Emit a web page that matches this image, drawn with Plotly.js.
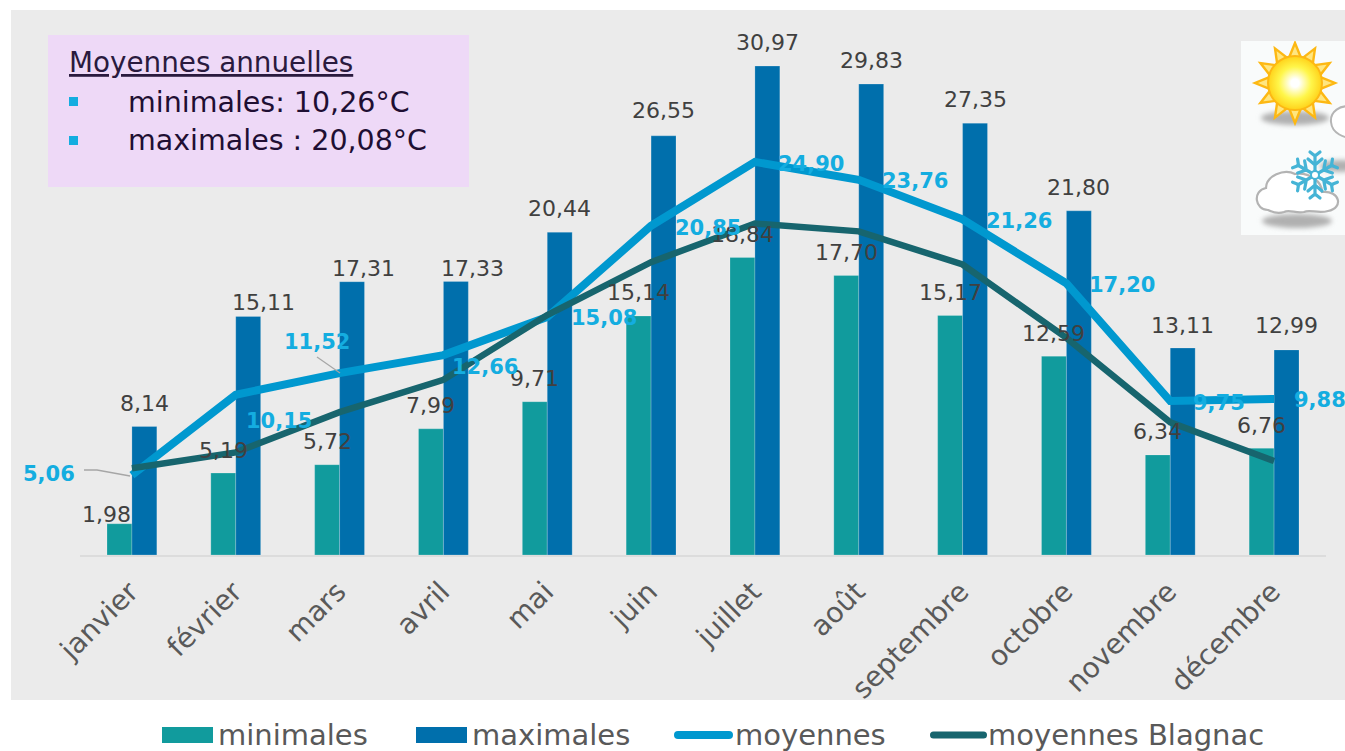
<!DOCTYPE html>
<html><head><meta charset="utf-8">
<script src="https://cdn.plot.ly/plotly-3.0.1.min.js"></script>
<style>html,body{margin:0;padding:0;background:#fff;overflow:hidden}#c{width:1345px;height:751px}</style>
</head><body><div id="c"></div>
<script>
const months = ['janvier','février','mars','avril','mai','juin','juillet','août','septembre','octobre','novembre','décembre'];
const minimales = [1.98,5.19,5.72,7.99,9.71,15.14,18.84,17.70,15.17,12.59,6.34,6.76];
const maximales = [8.14,15.11,17.31,17.33,20.44,26.55,30.97,29.83,27.35,21.80,13.11,12.99];
const moyennes = [5.06,10.15,11.52,12.66,15.08,20.85,24.90,23.76,21.26,17.20,9.75,9.88];
const blagnac = [5.5,6.5,9.05,11.1,15.2,18.55,21.0,20.5,18.4,13.75,8.4,5.95];

const W=1345,H=751,L=80,R=1326,T=10,B=555;
const px=x=>(x-L)/(R-L), py=y=>(B-y)/(B-T);
const FONT='"DejaVu Sans", Verdana, sans-serif';
const fmt=v=>v.toFixed(2).replace('.',',');
const rect=(x0,y0,x1,y1,c)=>({type:'rect',xref:'paper',yref:'paper',x0:px(x0),x1:px(x1),y0:py(y1),y1:py(y0),fillcolor:c,line:{width:0},layer:'below'});
const P=(x,y)=>px(x).toFixed(5)+','+py(y).toFixed(5);
const pill=(x0,x1,y,h,c)=>{const r=h/2;return {type:'path',xref:'paper',yref:'paper',
  path:'M'+P(x0+r,y-r)+'L'+P(x1-r,y-r)+'Q'+P(x1,y-r)+' '+P(x1,y)+'Q'+P(x1,y+r)+' '+P(x1-r,y+r)+'L'+P(x0+r,y+r)+'Q'+P(x0,y+r)+' '+P(x0,y)+'Q'+P(x0,y-r)+' '+P(x0+r,y-r)+'Z',
  fillcolor:c,line:{width:0}};};
const leader=(pts)=>({type:'path',xref:'paper',yref:'paper',path:'M'+pts.map(p=>P(p[0],p[1])).join('L'),line:{color:'#a6a6a6',width:1.3}});
const barShift=12.5;

const ann=[];
// Bar value labels
const minDx=[-13,0,0,0,0,0,0,0,0,0,0,0];
const minDy=[9,23,23,23,23,23,23,23,23,23,23,23];
minimales.forEach((v,i)=>{
  ann.push({x:months[i],y:v,xref:'x',yref:'y',text:fmt(v),showarrow:false,xanchor:'center',yanchor:'middle',
    xshift:-barShift+minDx[i],yshift:minDy[i],font:{family:FONT,size:22,color:'#404040'}});
});
const maxDx=[0,15,11,17,0,0,0,0,0,0,0,0];
const maxDy=[23,14,13,13,24,25,24,24,24,23,23,24];
maximales.forEach((v,i)=>{
  ann.push({x:months[i],y:v,xref:'x',yref:'y',text:fmt(v),showarrow:false,xanchor:'center',yanchor:'middle',
    xshift:barShift+maxDx[i],yshift:maxDy[i],font:{family:FONT,size:22,color:'#404040'}});
});
// Mean value labels, offset from their point
const meanDx=[-83,43,-23,42,57,57,56,56,56,56,49,46];
const meanDy=[1,-26,31,-12,-1,-2,-2,-1,-2,-2,-2,-1];
moyennes.forEach((v,i)=>{
  ann.push({x:months[i],y:v,xref:'x',yref:'y',text:'<b>'+fmt(v)+'</b>',showarrow:false,xanchor:'center',yanchor:'middle',
    xshift:meanDx[i],yshift:meanDy[i],font:{family:FONT,size:21,color:'#14ade0'}});
});
// Text box
const pa=(x,y,text,font)=>({xref:'paper',yref:'paper',x:px(x),y:py(y),text,showarrow:false,xanchor:'left',yanchor:'middle',font:Object.assign({family:FONT},font)});
ann.push(pa(67,63,'Moyennes annuelles',{size:27.8,color:'#2a1a3e',lineposition:'under'}));
ann.push(pa(126,102,'minimales: 10,26°C',{size:28.5,color:'#1f0f33'}));
ann.push(pa(126,141,'maximales : 20,08°C',{size:28.5,color:'#1f0f33'}));
// Legend labels
const legendLabels=[['minimales',216],['maximales',470],['moyennes',733],['moyennes Blagnac',986]];
legendLabels.forEach(l=>ann.push(pa(l[1],735,l[0],{size:29,color:'#595959'})));

const shapes=[
  rect(11,10,1345,700,'#ebebeb'),
  rect(48,35,469,187,'#eed9f7'),
  rect(69,97,78,106,'#14ade0'),
  rect(69,136,78,145,'#14ade0'),
  rect(162,727,213,743,'#119b9d'),
  rect(416,727,467,743,'#006fac'),
  pill(674,733,735,8,'#0098cf'),
  pill(930,987,735,7,'#17656e'),
  leader([[84,470],[97,470],[130,476]]),
  leader([[317,357],[340,373]])
];

// Weather icon
function icon(){
  let rays='';
  for(let k=0;k<12;k++){
    const a=k*Math.PI/6-Math.PI/2,b=0.26;
    const p=(r,t)=>(1295+r*Math.cos(t)).toFixed(1)+','+(83+r*Math.sin(t)).toFixed(1);
    rays+=`<polygon points="${p(25,a-b)} ${p(40,a)} ${p(25,a+b)}" fill="#ffe680" stroke="#fdb813" stroke-width="2.4"/>`;
  }
  let flake='';
  for(let k=0;k<6;k++){
    flake+=`<g transform="rotate(${k*60} 1315 175)"><path d="M1315 175V155M1308 159L1315 165L1322 159M1310 152L1315 156L1320 152" fill="none" stroke="#45b4d6" stroke-width="3.2" stroke-linecap="round"/></g>`;
  }
  const cloud='M1268 210C1255 210 1252 191 1266 188C1266 176 1284 168 1295 174C1310 172 1322 182 1322 192C1340 190 1344 208 1328 211C1318 214 1310 209 1304 212C1296 214 1290 209 1284 212C1278 214 1272 212 1268 210Z';
  const svg=`<svg xmlns="http://www.w3.org/2000/svg" width="104" height="194" viewBox="1241 41 104 194">
  <defs><radialGradient id="s"><stop offset="0.15" stop-color="#ffffff"/><stop offset="0.6" stop-color="#fff64a"/><stop offset="1" stop-color="#ffd21a"/></radialGradient>
  <filter id="b" x="-30%" y="-60%" width="160%" height="220%"><feGaussianBlur stdDeviation="2.5"/></filter></defs>
  <rect x="1241" y="41" width="104" height="194" fill="#f9fbfb"/>
  <ellipse cx="1295" cy="118" rx="34" ry="7" fill="#b0b0b0" filter="url(#b)"/>
  <ellipse cx="1340" cy="166" rx="20" ry="6" fill="#b0b0b0" filter="url(#b)"/>
  <ellipse cx="1297" cy="221" rx="35" ry="7" fill="#b0b0b0" filter="url(#b)"/>
  ${rays}
  <circle cx="1295" cy="83" r="27" fill="url(#s)" stroke="#fdb813" stroke-width="2"/>
  <path d="M1352 107C1340 104 1330 112 1331 122C1332 134 1345 138 1352 138Z" fill="#ffffff" stroke="#b5b5b5" stroke-width="2"/>
  <path d="${cloud}" fill="#ffffff" stroke="#b3b3b3" stroke-width="2.2"/>
  ${flake}
  <circle cx="1315" cy="175" r="4" fill="#ffffff" stroke="#45b4d6" stroke-width="2"/>
  </svg>`;
  return 'data:image/svg+xml;charset=utf-8,'+encodeURIComponent(svg);
}

const barLine={color:'rgba(255,255,255,0.2)',width:1};
const data=[
  {type:'bar',name:'minimales',x:months,y:minimales,marker:{color:'#119b9d',line:barLine},hoverinfo:'skip'},
  {type:'bar',name:'maximales',x:months,y:maximales,marker:{color:'#006fac',line:barLine},hoverinfo:'skip'},
  {type:'scatter',mode:'lines',name:'moyennes',x:months,y:moyennes,line:{color:'#0098cf',width:8},hoverinfo:'skip'},
  {type:'scatter',mode:'lines',name:'moyennes Blagnac',x:months,y:blagnac,line:{color:'#17656e',width:6.5},hoverinfo:'skip'}
];
const layout={
  width:W,height:H,autosize:false,showlegend:false,
  margin:{l:L,r:W-R,t:T,b:H-B,pad:0},
  paper_bgcolor:'#ffffff',plot_bgcolor:'rgba(0,0,0,0)',
  barmode:'group',bargap:0.52,bargroupgap:0,
  font:{family:FONT},
  xaxis:{type:'category',categoryorder:'array',categoryarray:months,range:[-0.5,11.5],tickangle:-45,
    tickfont:{family:FONT,size:28,color:'#595959'},ticklabelstandoff:7,ticklabelshift:-2,showline:true,linecolor:'#dcdcdc',linewidth:2,
    ticks:'',showgrid:false,zeroline:false,automargin:false,fixedrange:true},
  yaxis:{range:[0,34.52],visible:false,showgrid:false,zeroline:false,fixedrange:true},
  shapes,annotations:ann,
  images:[{source:icon(),xref:'paper',yref:'paper',x:px(1241),y:py(41),sizex:px(1345)-px(1241),sizey:py(41)-py(235),xanchor:'left',yanchor:'top',sizing:'stretch',layer:'above'}]
};
Plotly.newPlot('c',data,layout,{displayModeBar:false,staticPlot:true,responsive:false});
</script>
</body></html>
